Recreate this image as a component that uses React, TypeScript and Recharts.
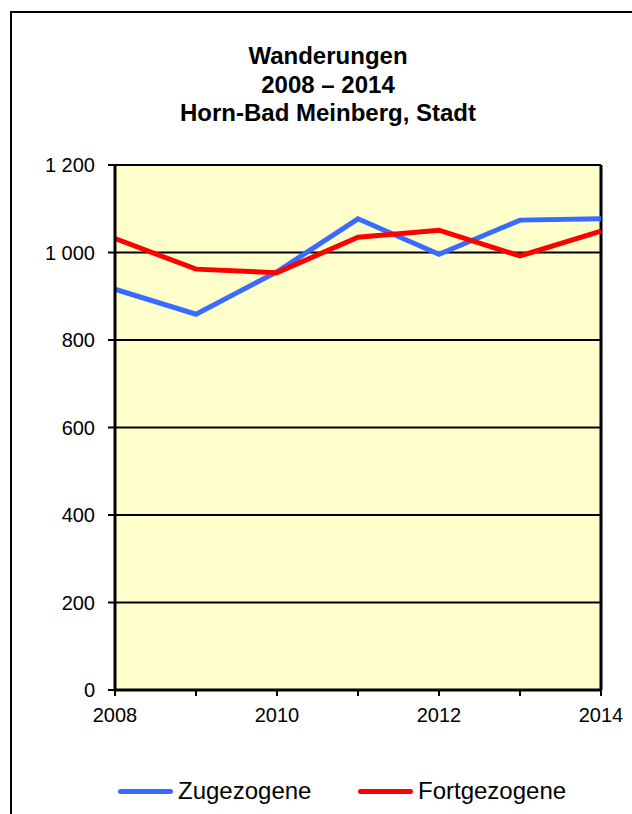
import React from 'react';
import { LineChart, Line, XAxis, YAxis, CartesianGrid, ReferenceLine } from 'recharts';

const years = [2008, 2009, 2010, 2011, 2012, 2013, 2014];
const zugezogene = [916, 859, 956, 1077, 996, 1074, 1077];
const fortgezogene = [1032, 962, 954, 1035, 1051, 992, 1049];
const yTicks = [0, 200, 400, 600, 800, 1000, 1200];
const titleLines = ['Wanderungen', '2008 \u2013 2014', 'Horn-Bad Meinberg, Stadt'];
const seriesNames = ['Zugezogene', 'Fortgezogene'];
const seriesColors = ['#3A6BFF', '#FF0000'];

const data = years.map((y, i) => ({ year: y, z: zugezogene[i], f: fortgezogene[i] }));

const FONT = "Arial, 'Liberation Sans', Helvetica, sans-serif";

const fmtY = (v: number) => String(v).replace(/\B(?=(\d{3})+(?!\d))/g, '\u00a0');
const fmtX = (v: number) => (v % 2 === 0 ? String(v) : '');

export default function App() {
  return (
    <div style={{ position: 'fixed', left: 0, top: 0, width: 632, height: 814, overflow: 'hidden', background: '#fff', fontFamily: FONT }}>
      <div style={{ position: 'absolute', left: 10, top: 11, width: 700, height: 900, border: '2px solid #000' }} />
      <div style={{ position: 'absolute', left: 0, top: 42, width: 656, textAlign: 'center', fontWeight: 'bold', fontSize: 24, lineHeight: '28.5px', color: '#000' }}>
        {titleLines.map((t) => (
          <div key={t}>{t}</div>
        ))}
      </div>
      <div style={{ position: 'absolute', left: 0, top: 0 }}>
        <LineChart width={632} height={814} data={data} margin={{ top: 165, right: 31, left: 0, bottom: 84 }}>
          <CartesianGrid vertical={false} stroke="#000" strokeWidth={2} fill="#FFFFCC" fillOpacity={1} />
          <XAxis
            dataKey="year"
            type="number"
            domain={[2008, 2014]}
            ticks={years}
            tickFormatter={fmtX}
            height={40}
            tickSize={6}
            tickMargin={12}
            axisLine={{ stroke: '#000', strokeWidth: 3 }}
            tickLine={{ stroke: '#000', strokeWidth: 2 }}
            tick={{ fill: '#000', fontSize: 20, fontFamily: FONT }}
            interval={0}
          />
          <YAxis
            type="number"
            domain={[0, 1200]}
            ticks={yTicks}
            tickFormatter={fmtY}
            width={115}
            tickSize={7}
            tickMargin={13}
            axisLine={{ stroke: '#000', strokeWidth: 3 }}
            tickLine={{ stroke: '#000', strokeWidth: 2 }}
            tick={{ fill: '#000', fontSize: 20, fontFamily: FONT }}
            interval={0}
          />
          <ReferenceLine x={2014} stroke="#000" strokeWidth={3} />
          <Line dataKey="z" name={seriesNames[0]} stroke={seriesColors[0]} strokeWidth={5} dot={false} isAnimationActive={false} strokeLinejoin="miter" />
          <Line dataKey="f" name={seriesNames[1]} stroke={seriesColors[1]} strokeWidth={5} dot={false} isAnimationActive={false} strokeLinejoin="miter" />
        </LineChart>
      </div>
      {seriesNames.map((n, i) => (
        <div key={n} style={{ position: 'absolute', left: i === 0 ? 118 : 358, top: 776, height: 30, display: 'flex', alignItems: 'center' }}>
          <div style={{ width: 55, height: 5, borderRadius: 3, background: seriesColors[i], marginRight: 5 }} />
          <span style={{ fontSize: 24, color: '#000', lineHeight: '30px' }}>{n}</span>
        </div>
      ))}
    </div>
  );
}
